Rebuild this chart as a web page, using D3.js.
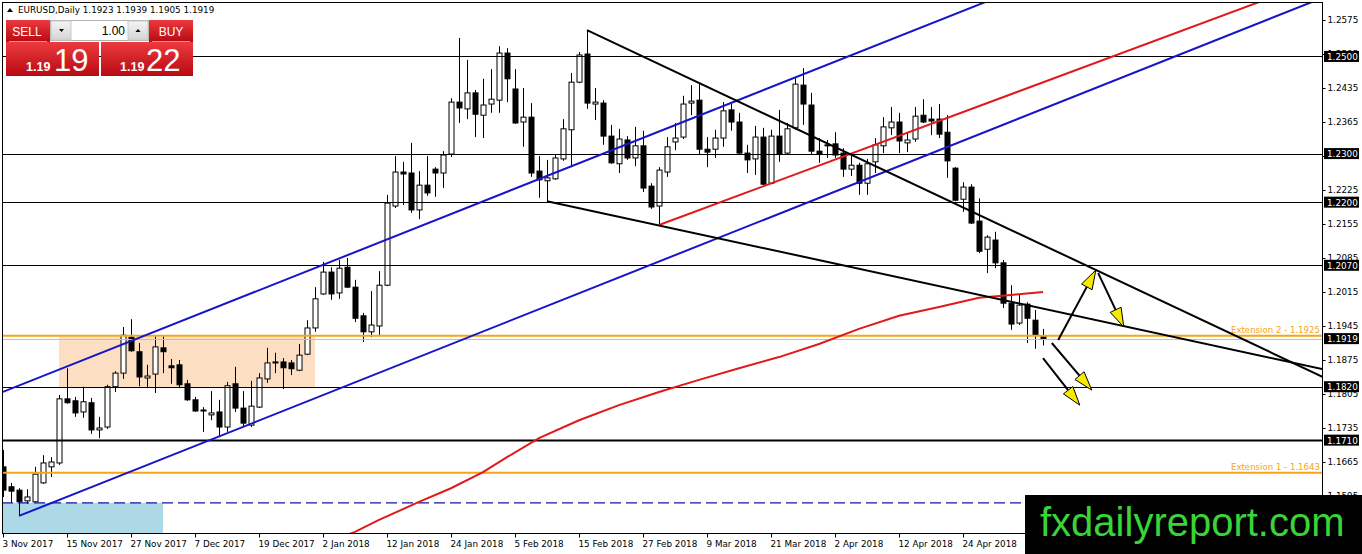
<!DOCTYPE html>
<html>
<head>
<meta charset="utf-8">
<script src="https://cdn.jsdelivr.net/npm/d3@7"></script>
<style>
body{margin:0;background:#fff;}
svg{display:block;}
</style>
</head>
<body>
<svg id="chart" width="1362" height="554"></svg>
<script>
//EURUSD daily candles, 3 Nov 2017 .. 8 May 2018 (bar index 0..130)
var opens = [
1.1655,1.1614,1.1607,1.1585,1.1583,1.1622,1.1655,1.1663,1.1795,1.1791,
1.1768,1.1787,1.1731,1.1737,1.1820,1.1848,1.1922,1.1892,1.1838,1.1846,
1.1900,1.1863,1.1865,1.1826,1.1793,1.1772,1.1762,1.1768,1.1737,1.1826,
1.1776,1.1741,1.1778,1.1836,1.1871,1.1871,1.1869,1.1854,1.1887,1.1941,
1.2011,1.2056,1.2013,1.2066,1.2025,1.1966,1.1933,1.1945,1.2029,1.2192,
1.2262,1.2260,1.2184,1.2235,1.2268,1.2260,1.2299,1.2406,1.2392,1.2425,
1.2379,1.2402,1.2410,1.2507,1.2433,1.2365,1.2375,1.2264,1.2244,1.2248,
1.2289,1.2349,1.2447,1.2505,1.2402,1.2404,1.2336,1.2279,1.2328,1.2291,
1.2316,1.2233,1.2192,1.2262,1.2324,1.2334,1.2404,1.2410,1.2309,1.2309,
1.2332,1.2390,1.2365,1.2301,1.2289,1.2334,1.2239,1.2336,1.2301,1.2353,
1.2441,1.2400,1.2305,1.2318,1.2320,1.2301,1.2268,1.2276,1.2239,1.2283,
1.2316,1.2353,1.2365,1.2322,1.2330,1.2379,1.2371,1.2371,1.2344,1.2270,
1.2206,1.2231,1.2161,1.2103,1.2122,1.2075,1.1992,1.1951,1.1990,1.1957,
1.1923];

var highs = [
1.1690,1.1622,1.1611,1.1609,1.1655,1.1679,1.1675,1.1803,1.1858,1.1799,
1.1820,1.1797,1.1758,1.1824,1.1852,1.1943,1.1959,1.1910,1.1865,1.1924,
1.1924,1.1877,1.1875,1.1834,1.1799,1.1778,1.1811,1.1793,1.1830,1.1861,
1.1811,1.1832,1.1848,1.1900,1.1890,1.1879,1.1875,1.1908,1.1957,1.2025,
1.2077,1.2066,1.2081,1.2085,1.2040,1.1972,1.2017,1.2058,1.2215,1.2295,
1.2283,1.2322,1.2264,1.2295,1.2272,1.2305,1.2414,1.2538,1.2493,1.2431,
1.2454,1.2474,1.2521,1.2517,1.2474,1.2435,1.2404,1.2295,1.2287,1.2297,
1.2371,1.2466,1.2509,1.2554,1.2435,1.2410,1.2359,1.2351,1.2336,1.2355,
1.2347,1.2239,1.2272,1.2334,1.2363,1.2419,1.2441,1.2443,1.2334,1.2349,
1.2406,1.2404,1.2384,1.2318,1.2357,1.2353,1.2349,1.2390,1.2363,1.2456,
1.2476,1.2425,1.2332,1.2328,1.2344,1.2311,1.2295,1.2281,1.2289,1.2332,
1.2375,1.2396,1.2384,1.2342,1.2396,1.2412,1.2396,1.2402,1.2379,1.2272,
1.2241,1.2237,1.2208,1.2132,1.2139,1.2081,1.2029,1.2011,1.1994,1.1978,
1.1939];

var lows = [
1.1593,1.1581,1.1554,1.1579,1.1581,1.1620,1.1634,1.1659,1.1785,1.1758,
1.1756,1.1723,1.1714,1.1733,1.1809,1.1836,1.1892,1.1821,1.1817,1.1807,
1.1848,1.1826,1.1817,1.1791,1.1768,1.1727,1.1751,1.1716,1.1727,1.1768,
1.1737,1.1737,1.1776,1.1828,1.1848,1.1815,1.1844,1.1852,1.1885,1.1933,
1.2009,1.1999,1.2001,1.2023,1.1953,1.1912,1.1922,1.1926,1.2027,1.2188,
1.2194,1.2178,1.2165,1.2213,1.2211,1.2229,1.2293,1.2363,1.2371,1.2334,
1.2332,1.2384,1.2384,1.2406,1.2361,1.2314,1.2252,1.2209,1.2202,1.2246,
1.2285,1.2272,1.2445,1.2392,1.2369,1.2318,1.2279,1.2260,1.2287,1.2274,
1.2221,1.2186,1.2153,1.2252,1.2307,1.2330,1.2379,1.2297,1.2272,1.2291,
1.2314,1.2347,1.2299,1.2260,1.2256,1.2235,1.2237,1.2283,1.2299,1.2349,
1.2359,1.2297,1.2281,1.2291,1.2291,1.2252,1.2254,1.2215,1.2215,1.2260,
1.2301,1.2338,1.2301,1.2303,1.2324,1.2363,1.2338,1.2332,1.2250,1.2202,
1.2180,1.2155,1.2095,1.2054,1.2064,1.1982,1.1937,1.1947,1.1910,1.1898,
1.1905];

var closes = [
1.1607,1.1605,1.1583,1.1593,1.1640,1.1663,1.1665,1.1795,1.1787,1.1766,
1.1789,1.1731,1.1735,1.1820,1.1848,1.1926,1.1894,1.1840,1.1842,1.1902,
1.1892,1.1859,1.1824,1.1793,1.1770,1.1771,1.1766,1.1737,1.1822,1.1776,
1.1745,1.1780,1.1838,1.1869,1.1869,1.1859,1.1857,1.1885,1.1941,1.2001,
1.2056,1.2011,1.2064,1.2025,1.1961,1.1933,1.1947,1.2029,1.2198,1.2262,
1.2258,1.2184,1.2235,1.2219,1.2260,1.2297,1.2406,1.2394,1.2425,1.2381,
1.2400,1.2412,1.2507,1.2454,1.2363,1.2375,1.2260,1.2246,1.2250,1.2291,
1.2351,1.2447,1.2503,1.2404,1.2406,1.2336,1.2281,1.2330,1.2291,1.2316,
1.2229,1.2190,1.2266,1.2314,1.2332,1.2402,1.2408,1.2309,1.2303,1.2332,
1.2388,1.2365,1.2301,1.2287,1.2334,1.2237,1.2336,1.2299,1.2351,1.2443,
1.2402,1.2305,1.2299,1.2316,1.2297,1.2268,1.2276,1.2239,1.2279,1.2318,
1.2355,1.2365,1.2326,1.2328,1.2377,1.2365,1.2367,1.2340,1.2285,1.2204,
1.2231,1.2157,1.2099,1.2128,1.2075,1.1992,1.1949,1.1988,1.1961,1.1926,
1.1919];

//moving average (red), read at a few bars
var maIdx = [43,44,47,50,52,56,60,63,67,72,77,82,87,92,97,102,107,112,117,122,126,130];
var maVal = [1.1515,1.1521,1.1546,1.1568,1.1583,1.1611,1.1644,1.1675,1.1714,1.1751,1.1782,1.1809,1.1834,1.1858,1.1881,1.1908,1.1939,1.1966,1.1984,1.2003,1.2009,1.2015];

//axis labels
var xTickIdx = [0,8,16,24,32,40,48,56,64,72,80,88,96,104,112,120];
var xTickLabels = ["3 Nov 2017","15 Nov 2017","27 Nov 2017","7 Dec 2017","19 Dec 2017","2 Jan 2018","12 Jan 2018","24 Jan 2018","5 Feb 2018","15 Feb 2018","27 Feb 2018","9 Mar 2018","21 Mar 2018","2 Apr 2018","12 Apr 2018","24 Apr 2018"];
var yTicks = [1.1595,1.1665,1.1735,1.1805,1.1875,1.1945,1.2015,1.2085,1.2155,1.2225,1.2295,1.2365,1.2435,1.2505,1.2575];

//horizontal levels and labelled prices
var levels = [1.2500,1.2300,1.2200,1.2070,1.1820,1.1710];
var levelWidth = [1,1,1,1,1,2];
var bidPrice = 1.1919;
var boxPrices = [1.2500,1.2300,1.2200,1.2070,1.1919,1.1820,1.1710];
var extPrices = [1.1925,1.1643];
var extLabels = ["Extension 2 - 1.1925","Extension 1 - 1.1643"];
var dashPrice = 1.1581;

//zones [bar1, price1, bar2, price2]
var blueZone = [0,1.1581,20,1.1400];
var peachZone = [7,1.1922,39,1.1818];

//trend lines [bar1, price1, bar2, price2]
var blueLines = [[-0.375,1.1807,123.4,1.2616],[2,1.1554,163.6,1.2612]];
var redLines = [[82,1.2153,157,1.2612]];
var blackLines = [[73,1.2554,165,1.1840],[68,1.2202,165,1.1856]];

//arrows [bar tail, price tail, bar tip, price tip]
var arrows = [[131.9,1.1916,136.6,1.2060],[136.9,1.2054,140.1,1.1943],[131.1,1.1910,136.1,1.1813],[130,1.1879,134.6,1.1782]];

var svg = d3.select("#chart");
var plotL = 2, plotR = 1322, plotT = 2, plotB = 533;
var axisFont = "DejaVu Sans";

var x = d3.scaleLinear().domain([-0.125, 164.875]).range([plotL, plotR]);
var y = d3.scaleLinear().domain([1.15188, 1.26121]).range([plotB, plotT]);

svg.append("rect").attr("width",1362).attr("height",554).attr("fill","#fff");

var defs = svg.append("defs");
defs.append("clipPath").attr("id","plot")
	.append("rect").attr("x",plotL).attr("y",plotT).attr("width",plotR-plotL).attr("height",plotB-plotT);

var rg = defs.append("linearGradient").attr("id","red1").attr("x1",0).attr("y1",0).attr("x2",0).attr("y2",1);
rg.append("stop").attr("offset","0%").attr("stop-color","#ec3a3f");
rg.append("stop").attr("offset","100%").attr("stop-color","#b80a12");
var gg = defs.append("linearGradient").attr("id","grey").attr("x1",0).attr("y1",0).attr("x2",0).attr("y2",1);
gg.append("stop").attr("offset","0%").attr("stop-color","#f4f4f4");
gg.append("stop").attr("offset","100%").attr("stop-color","#d4d4d4");

var plot = svg.append("g").attr("clip-path","url(#plot)");

//zones
function zone(z, color)
{
	plot.append("rect")
		.attr("x", x(z[0]))
		.attr("y", y(z[1]))
		.attr("width", x(z[2]) - x(z[0]))
		.attr("height", y(z[3]) - y(z[1]))
		.attr("fill", color);
}
zone(blueZone, "#add8e6");
zone(peachZone, "#fcdfc3");

//candles
var bars = d3.range(opens.length);
var candle = plot.selectAll("g.candle").data(bars).enter().append("g").attr("class","candle");
candle.append("line")
	.attr("x1", function(i){ return Math.round(x(i)) + 0.5; })
	.attr("x2", function(i){ return Math.round(x(i)) + 0.5; })
	.attr("y1", function(i){ return y(highs[i]); })
	.attr("y2", function(i){ return y(lows[i]); })
	.attr("stroke", "#000").attr("stroke-width", 1);
candle.append("rect")
	.attr("x", function(i){ return Math.round(x(i)) - 2; })
	.attr("y", function(i){ return y(Math.max(opens[i], closes[i])); })
	.attr("width", 5)
	.attr("height", function(i){ return Math.max(1, Math.abs(y(opens[i]) - y(closes[i]))); })
	.attr("fill", function(i){ return closes[i] >= opens[i] ? "#fff" : "#000"; })
	.attr("stroke", "#000").attr("stroke-width", 1);

//horizontal levels
levels.forEach(function(p, k)
{
	plot.append("line")
		.attr("x1", plotL).attr("x2", plotR)
		.attr("y1", Math.round(y(p)) + 0.5).attr("y2", Math.round(y(p)) + 0.5)
		.attr("stroke", "#000").attr("stroke-width", levelWidth[k]);
});

plot.append("line")
	.attr("x1", plotL).attr("x2", plotR)
	.attr("y1", Math.round(y(bidPrice)) + 0.5).attr("y2", Math.round(y(bidPrice)) + 0.5)
	.attr("stroke", "#c0c0c0").attr("stroke-width", 1);

extPrices.forEach(function(p, k)
{
	plot.append("line")
		.attr("x1", plotL).attr("x2", plotR)
		.attr("y1", y(p)).attr("y2", y(p))
		.attr("stroke", "#f7a416").attr("stroke-width", 2);
	plot.append("text")
		.attr("x", plotR - 2).attr("y", y(p) - 3)
		.attr("text-anchor", "end")
		.attr("font-family", axisFont).attr("font-size", "8.6px")
		.attr("fill", "#f7a416")
		.text(extLabels[k]);
});

plot.append("line")
	.attr("x1", plotL).attr("x2", plotR)
	.attr("y1", y(dashPrice)).attr("y2", y(dashPrice))
	.attr("stroke", "#14149a").attr("stroke-width", 1.3)
	.attr("stroke-dasharray", "11,5");

//moving average
var maLine = d3.line()
	.x(function(d, k){ return x(maIdx[k]); })
	.y(function(d){ return y(d); });
plot.append("path").datum(maVal)
	.attr("d", maLine)
	.attr("fill", "none").attr("stroke", "#e01a1a").attr("stroke-width", 2);

//trend lines
function trend(list, color)
{
	list.forEach(function(t)
	{
		plot.append("line")
			.attr("x1", x(t[0])).attr("y1", y(t[1]))
			.attr("x2", x(t[2])).attr("y2", y(t[3]))
			.attr("stroke", color).attr("stroke-width", 2);
	});
}
trend(blueLines, "#1616c8");
trend(redLines, "#e01a1a");
trend(blackLines, "#000");

//arrows
arrows.forEach(function(a)
{
	var x1 = x(a[0]), y1 = y(a[1]), x2 = x(a[2]), y2 = y(a[3]);
	var len = Math.sqrt((x2-x1)*(x2-x1) + (y2-y1)*(y2-y1));
	var ux = (x2-x1)/len, uy = (y2-y1)/len;
	var bx = x2 - 19*ux, by = y2 - 19*uy;
	svg.append("line")
		.attr("x1", x1).attr("y1", y1).attr("x2", bx).attr("y2", by)
		.attr("stroke", "#000").attr("stroke-width", 2);
	svg.append("polygon")
		.attr("points", [[x2,y2],[bx - 6*uy, by + 6*ux],[bx + 6*uy, by - 6*ux]].join(" "))
		.attr("fill", "#f6ea00").attr("stroke", "#000").attr("stroke-width", 1);
});

//frame
svg.append("rect")
	.attr("x", plotL + 0.5).attr("y", plotT + 0.5)
	.attr("width", plotR - plotL).attr("height", plotB - plotT)
	.attr("fill", "none").attr("stroke", "#000");

//axes
var yAxis = svg.append("g")
	.attr("transform", "translate(" + (plotR + 0.5) + ",0)")
	.call(d3.axisRight(y).tickValues(yTicks).tickFormat(d3.format(".4f")).tickSize(3).tickPadding(2));
yAxis.select(".domain").remove();
yAxis.selectAll("text").attr("font-family", axisFont).attr("font-size", "8.8px").attr("fill", "#000");

var xAxis = svg.append("g")
	.attr("transform", "translate(0," + (plotB + 0.5) + ")")
	.call(d3.axisBottom(x).tickValues(xTickIdx).tickFormat(function(d, k){ return xTickLabels[k]; }).tickSize(4).tickPadding(3));
xAxis.select(".domain").remove();
xAxis.selectAll("text").attr("text-anchor", "start").attr("x", -1)
	.attr("font-family", axisFont).attr("font-size", "8.8px").attr("fill", "#000");

//price boxes on the axis
boxPrices.forEach(function(p)
{
	svg.append("rect")
		.attr("x", plotR + 2).attr("y", y(p) - 5.5)
		.attr("width", 35).attr("height", 11)
		.attr("fill", "#000");
	svg.append("text")
		.attr("x", plotR + 5).attr("y", y(p) + 3.5)
		.attr("font-family", axisFont).attr("font-size", "8.8px")
		.attr("fill", "#fff")
		.text(d3.format(".4f")(p));
});

//title line
var last = opens.length - 1;
svg.append("polygon").attr("points", "7,12 13,12 10,8").attr("fill", "#000");
svg.append("text")
	.attr("x", 18).attr("y", 13)
	.attr("font-family", axisFont).attr("font-size", "8.8px").attr("fill", "#000")
	.text("EURUSD,Daily  " + [opens[last], highs[last], lows[last], closes[last]].map(d3.format(".4f")).join(" "));

//one click trading panel
var panel = svg.append("g");
panel.append("rect").attr("x",6).attr("y",20).attr("width",44).attr("height",22).attr("fill","url(#red1)");
panel.append("rect").attr("x",149).attr("y",20).attr("width",44).attr("height",22).attr("fill","url(#red1)");
panel.append("rect").attr("x",50.5).attr("y",20.5).attr("width",98).attr("height",20).attr("fill","#fff").attr("stroke","#b0b0b0");
panel.append("rect").attr("x",51).attr("y",21).attr("width",20).attr("height",19).attr("fill","url(#grey)").attr("stroke","#c8c8c8");
panel.append("rect").attr("x",128).attr("y",21).attr("width",20).attr("height",19).attr("fill","url(#grey)").attr("stroke","#c8c8c8");
panel.append("polygon").attr("points","59,29 64,29 61.5,32").attr("fill","#000");
panel.append("polygon").attr("points","135.5,32 140.5,32 138,29").attr("fill","#000");
panel.append("text").attr("x",125).attr("y",35).attr("text-anchor","end")
	.attr("font-family","Liberation Sans").attr("font-size","12px").attr("fill","#000").text("1.00");
panel.append("text").attr("x",27).attr("y",35.5).attr("text-anchor","middle")
	.attr("font-family","Liberation Sans").attr("font-size","12px").attr("fill","#fff").text("SELL");
panel.append("text").attr("x",171).attr("y",35.5).attr("text-anchor","middle")
	.attr("font-family","Liberation Sans").attr("font-size","12px").attr("fill","#fff").text("BUY");
panel.append("line").attr("x1",9).attr("x2",47).attr("y1",41.5).attr("y2",41.5).attr("stroke","#f08a8a");
panel.append("line").attr("x1",152).attr("x2",190).attr("y1",41.5).attr("y2",41.5).attr("stroke","#f08a8a");
panel.append("rect").attr("x",6).attr("y",42).attr("width",93).attr("height",34).attr("fill","url(#red1)");
panel.append("rect").attr("x",101).attr("y",42).attr("width",92).attr("height",34).attr("fill","url(#red1)");
panel.append("text").attr("x",26).attr("y",71).attr("font-family","Liberation Sans").attr("font-weight","bold")
	.attr("font-size","12.5px").attr("fill","#fff").text("1.19");
panel.append("text").attr("x",54).attr("y",71).attr("font-family","Liberation Sans")
	.attr("font-size","31px").attr("fill","#fff").text("19");
panel.append("text").attr("x",120).attr("y",71).attr("font-family","Liberation Sans").attr("font-weight","bold")
	.attr("font-size","12.5px").attr("fill","#fff").text("1.19");
panel.append("text").attr("x",146).attr("y",71).attr("font-family","Liberation Sans")
	.attr("font-size","31px").attr("fill","#fff").text("22");

//watermark
svg.append("rect").attr("x",1025).attr("y",495).attr("width",337).attr("height",59).attr("fill","#000");
svg.append("text").attr("x",1040).attr("y",536)
	.attr("font-family","Liberation Sans").attr("font-size","40px").attr("fill","#38d438")
	.text("fxdailyreport.com");
</script>
</body>
</html>
